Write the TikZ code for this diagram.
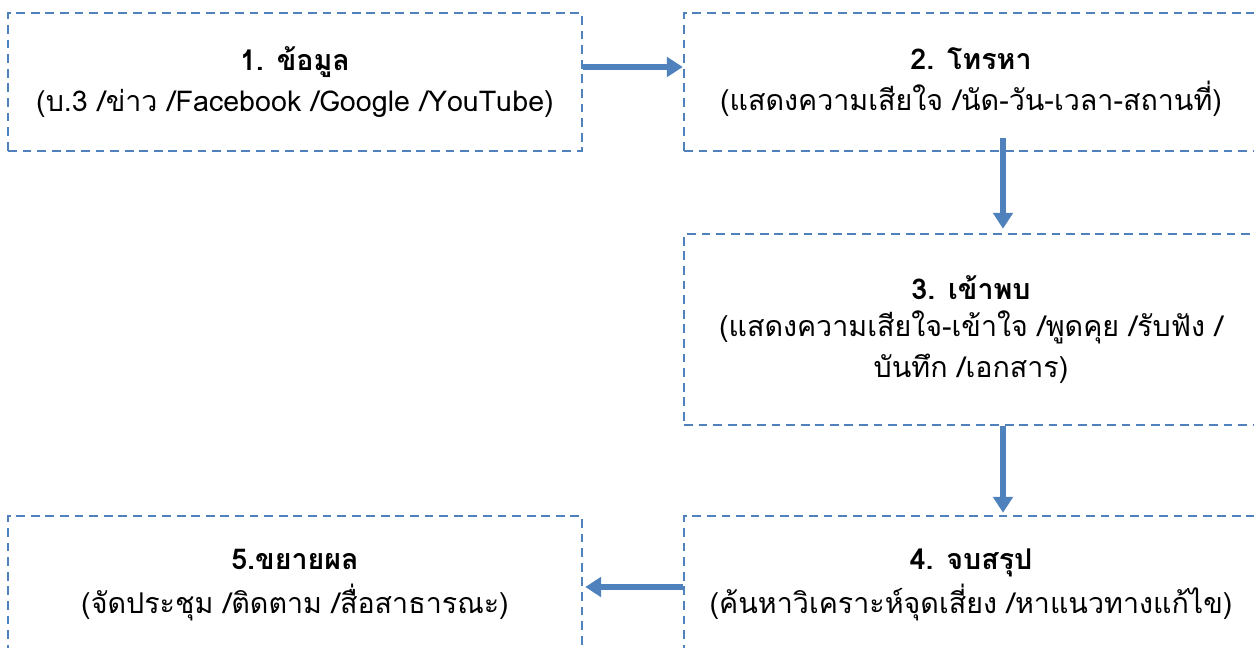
\documentclass[tikz,border=0pt]{standalone}
\usepackage{fontspec}
\setmainfont[Script=Thai]{Loma}
\usetikzlibrary{arrows.meta}
\definecolor{bl}{RGB}{79,129,189}
\tikzset{
  box/.style={draw=bl, line width=1.5pt, dash pattern=on 5pt off 3.3pt,
    inner sep=0pt, minimum width=11.48cm, minimum height=2.76cm,
    align=center, font=\fontsize{16.3}{23}\selectfont},
  arr/.style={draw=bl, line width=3.4pt, -{Triangle[length=9pt,width=11pt]}},
}
\begin{document}
\begin{tikzpicture}[x=0.02cm,y=-0.02cm]
\useasboundingbox (0,0) rectangle (1254,648);
\clip (0,0) rectangle (1254,648);
\node[box] (b1) at (295,82) {{\bfseries 1. ข้อมูล}\\[0pt](บ.3 /ข่าว /Facebook /Google /YouTube)};
\node[box] (b2) at (971,82) {{\bfseries 2. โทรหา}\\[0pt](แสดงความเสียใจ /นัด-วัน-เวลา-สถานที่)};
\node[box, minimum height=3.82cm] (b3) at (971,329.5) {{\bfseries 3. เข้าพบ}\\[-2pt](แสดงความเสียใจ-เข้าใจ /พูดคุย /รับฟัง /\\บันทึก /เอกสาร)};
\node[box] (b4) at (971,585) {{\bfseries 4. จบสรุป}\\[2pt](ค้นหาวิเคราะห์จุดเสี่ยง /หาแนวทางแก้ไข)};
\node[box] (b5) at (295,585) {{\bfseries 5.ขยายผล}\\[2pt](จัดประชุม /ติดตาม /สื่อสาธารณะ)};
\draw[arr] ([yshift=0.3cm]b1.east) -- ([yshift=0.3cm]b2.west);
\draw[arr] ([xshift=0.64cm,yshift=0.28cm]b2.south) -- ([xshift=0.64cm,yshift=0.08cm]b3.north);
\draw[arr] ([xshift=0.64cm]b3.south) -- ([xshift=0.64cm,yshift=0.04cm]b4.north);
\draw[arr] ([yshift=-0.04cm]b4.west) -- ([xshift=0.04cm,yshift=-0.04cm]b5.east);
\end{tikzpicture}
\end{document}
